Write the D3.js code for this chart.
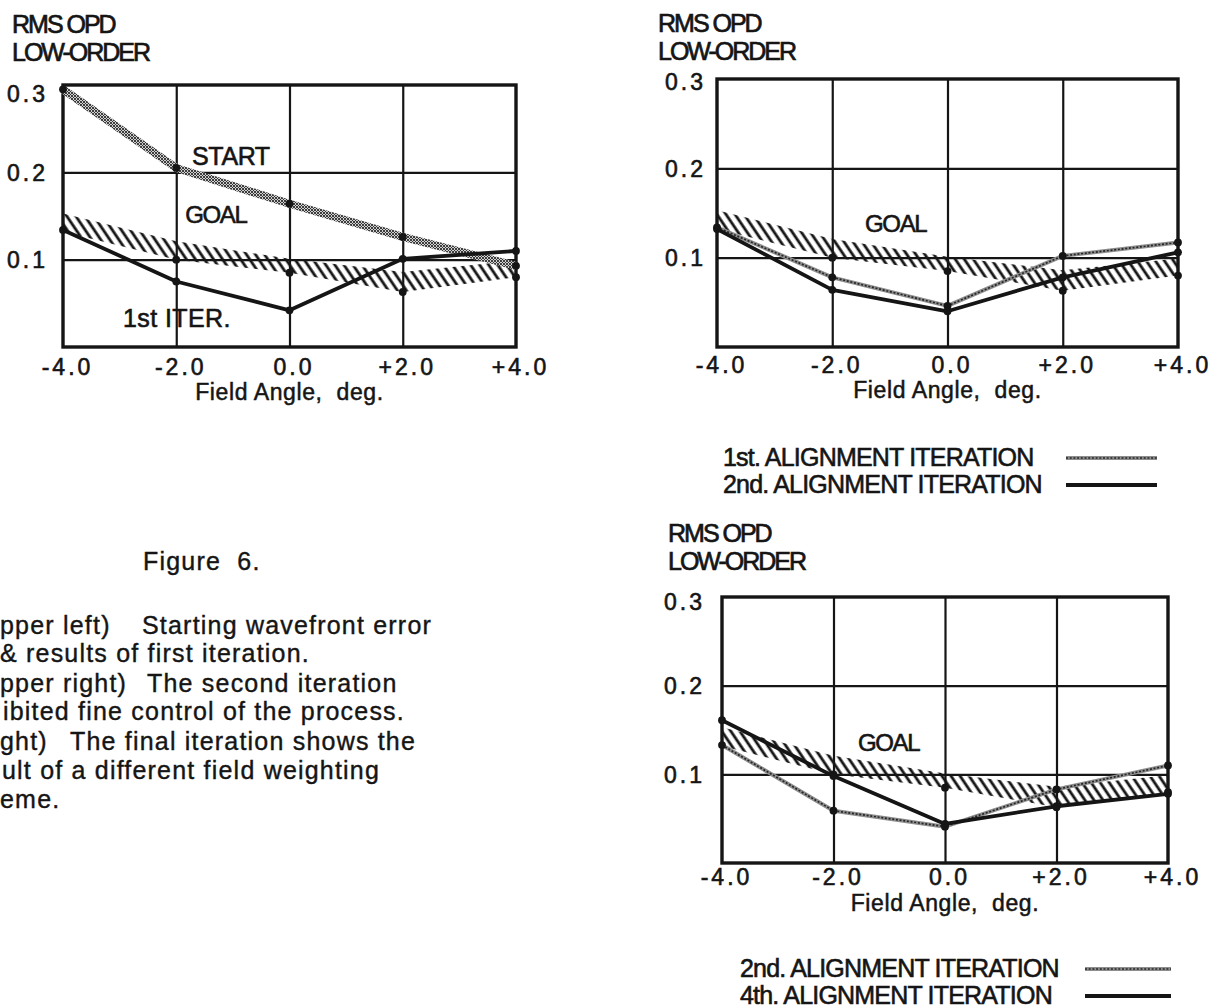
<!DOCTYPE html>
<html>
<head>
<meta charset="utf-8">
<script src="https://cdn.jsdelivr.net/npm/d3@7"></script>
<style>
  body { margin: 0; background: #fff; }
  svg { display: block; }
  text { font-family: "Liberation Sans", Arial, Helvetica, sans-serif; fill: #151515; white-space: pre; }
</style>
</head>
<body>
<svg id="fig" width="1219" height="1008"></svg>
<script>

// field angles (deg) shared by every panel
var angles = [-4, -2, 0, 2, 4];
var xTickLabels = ['-4.0', '-2.0', '0.0', '+2.0', '+4.0'];
var gridAngles = [-2, 0, 2];
var yTicks = [0.1, 0.2, 0.3];
var yTickLabels = ['0.1', '0.2', '0.3'];
var gridValues = [0.1, 0.2];

// goal band (hatched), same in all three panels
var goalUpper = [0.153, 0.121, 0.101, 0.086, 0.099];
var goalLower = [0.132, 0.100, 0.085, 0.063, 0.080];
var goalDotAngles = [-2, 0, 2, 4];

// upper left
var startError = [0.295, 0.205, 0.164, 0.126, 0.093];
var firstIter = [0.134, 0.075, 0.042, 0.101, 0.110];

// upper right
var alignFirst = [0.134, 0.078, 0.046, 0.102, 0.117];
var alignSecond = [0.132, 0.064, 0.040, 0.078, 0.106];

// lower right
var alignSecondB = [0.133, 0.059, 0.041, 0.083, 0.110];
var alignFourth = [0.161, 0.098, 0.044, 0.064, 0.078];

var legendTop = ['1st. ALIGNMENT ITERATION', '2nd. ALIGNMENT ITERATION'];
var legendBottom = ['2nd. ALIGNMENT ITERATION', '4th. ALIGNMENT ITERATION'];

var captionTitle = 'Figure  6.';
// the caption is cut by the left edge of the page: only the visible part is kept
var captionLines = [
    { y: 634, runs: [['pper left)', 0], ['Starting wavefront error', 142]] },
    { y: 662, runs: [['& results of first iteration.', 0]] },
    { y: 692, runs: [['pper right)', 0], ['The second iteration', 147]] },
    { y: 720, runs: [['ibited fine control of the process.', 3]] },
    { y: 750, runs: [['ght)', 0], ['The final iteration shows the', 70]] },
    { y: 779, runs: [['ult of a different field weighting', 2]] },
    { y: 808, runs: [['eme.', 0]] }
];

var svg = d3.select('#fig');
var ink = '#151515';

var defs = svg.append('defs');

var hatch = defs.append('pattern')
    .attr('id', 'hatch')
    .attr('patternUnits', 'userSpaceOnUse')
    .attr('width', 7.5).attr('height', 7.5)
    .attr('patternTransform', 'rotate(-34)');
hatch.append('line')
    .attr('x1', 2).attr('y1', 0).attr('x2', 2).attr('y2', 7.5)
    .attr('stroke', ink).attr('stroke-width', 2.8);

var stipple = defs.append('pattern')
    .attr('id', 'stipple')
    .attr('patternUnits', 'userSpaceOnUse')
    .attr('width', 3).attr('height', 3);
stipple.append('rect').attr('width', 3).attr('height', 3).attr('fill', '#cfcfcf');
stipple.append('path')
    .attr('d', 'M0,0L3,3M3,0L0,3')
    .attr('stroke', '#2e2e2e').attr('stroke-width', 0.9);

function label(g, txt, size, spacing, weight) {
    return g.append('text')
        .attr('font-size', size)
        .attr('letter-spacing', spacing)
        .attr('stroke', ink)
        .attr('stroke-width', weight === undefined ? 0.5 : weight)
        .text(txt);
}

function drawLine(g, path, style) {
    if (style === 'stipple') {
        g.append('path').attr('d', path).attr('fill', 'none')
            .attr('stroke', 'url(#stipple)').attr('stroke-width', 8);
    } else if (style === 'wavy') {
        g.append('path').attr('d', path).attr('fill', 'none')
            .attr('stroke', '#8e8e8e').attr('stroke-width', 4)
            .attr('stroke-linejoin', 'round');
        g.append('path').attr('d', path).attr('fill', 'none')
            .attr('stroke', '#262626').attr('stroke-width', 1.7)
            .attr('stroke-dasharray', '2 1.7');
    } else {
        g.append('path').attr('d', path).attr('fill', 'none')
            .attr('stroke', ink).attr('stroke-width', 3.8)
            .attr('stroke-linejoin', 'round');
    }
}

var panel = function (p) {

    var g = svg.append('g');

    var x = d3.scaleLinear().domain([-4, 4]).range([p.left, p.right]);
    var y = d3.scaleLinear().domain([0, 0.3]).range([p.bottom, p.top]);

    // title
    label(g, 'RMS OPD', 25, -2, 0.7).attr('x', p.titleX).attr('y', p.titleY);
    label(g, 'LOW-ORDER', 25, -2, 0.7).attr('x', p.titleX).attr('y', p.titleY + 28);

    // grid
    var gx = g.append('g')
        .attr('transform', 'translate(0,' + p.bottom + ')')
        .call(d3.axisBottom(x).tickValues(gridAngles).tickSize(-(p.bottom - p.top)).tickFormat(''));
    var gy = g.append('g')
        .attr('transform', 'translate(' + p.left + ',0)')
        .call(d3.axisLeft(y).tickValues(gridValues).tickSize(-(p.right - p.left)).tickFormat(''));
    [gx, gy].forEach(function (a) {
        a.select('.domain').remove();
        a.selectAll('line').attr('stroke', ink).attr('stroke-width', 2.2);
    });

    // goal band
    var goal = angles.map(function (a, i) {
        return { a: a, lo: goalLower[i], hi: goalUpper[i] };
    });
    g.append('path')
        .datum(goal)
        .attr('fill', 'url(#hatch)')
        .attr('d', d3.area()
            .x(function (d) { return x(d.a); })
            .y0(function (d) { return y(d.lo); })
            .y1(function (d) { return y(d.hi); }));

    // frame
    g.append('rect')
        .attr('x', p.left).attr('y', p.top)
        .attr('width', p.right - p.left).attr('height', p.bottom - p.top)
        .attr('fill', 'none').attr('stroke', ink).attr('stroke-width', 3.4);

    var line = d3.line()
        .x(function (d, i) { return x(angles[i]); })
        .y(function (d) { return y(d); });

    p.series.forEach(function (s) {
        drawLine(g, line(s.values), s.style);
    });

    // points
    var dots = [];
    goalDotAngles.forEach(function (a) {
        dots.push([a, goalLower[angles.indexOf(a)]]);
    });
    p.series.forEach(function (s) {
        s.values.forEach(function (v, i) { dots.push([angles[i], v]); });
    });
    g.selectAll('circle.pt')
        .data(dots)
        .enter().append('circle')
        .attr('class', 'pt')
        .attr('cx', function (d) { return x(d[0]); })
        .attr('cy', function (d) { return y(d[1]); })
        .attr('r', 3.9)
        .attr('fill', ink);

    // tick labels
    var xa = g.append('g')
        .attr('transform', 'translate(0,' + p.bottom + ')')
        .call(d3.axisBottom(x).tickValues(angles).tickSize(0)
            .tickFormat(function (d, i) { return xTickLabels[i]; }));
    xa.select('.domain').remove();
    xa.attr('font-size', null).attr('font-family', null).attr('fill', null);
    xa.selectAll('text')
        .attr('y', p.tickBase - p.bottom).attr('dy', 0).attr('dx', 4)
        .attr('font-size', 23).attr('letter-spacing', 3)
        .attr('stroke', ink).attr('stroke-width', 0.6);

    var ya = g.append('g')
        .attr('transform', 'translate(' + p.left + ',0)')
        .call(d3.axisLeft(y).tickValues(yTicks).tickSize(0).tickPadding(p.left - p.yLabelRight)
            .tickFormat(function (d, i) { return yTickLabels[i]; }));
    ya.select('.domain').remove();
    ya.attr('font-size', null).attr('font-family', null).attr('fill', null);
    ya.selectAll('text')
        .attr('font-size', 23).attr('letter-spacing', 3)
        .attr('stroke', ink).attr('stroke-width', 0.6)
        .attr('dy', function (d) { return d === 0.3 ? p.topLabelDy : '0.36em'; });

    label(g, 'Field Angle,  deg.', 23, 0.6)
        .attr('x', (p.left + p.right) / 2).attr('y', p.axisTitleY)
        .attr('text-anchor', 'middle');

    // labels inside the plot
    p.notes.forEach(function (n) {
        label(g, n.text, n.size, n.spacing, 0.6).attr('x', x(n.a)).attr('y', y(n.v));
    });

    // legend
    if (p.legend) {
        p.legend.forEach(function (txt, i) {
            var base = p.legendY + i * 27;
            label(g, txt, 25, -0.8, 0.6).attr('x', p.legendX).attr('y', base);
            var sample = d3.line()([[p.sampleX0, base - 8], [p.sampleX1, base - 8]]);
            drawLine(g, sample, p.series[i].style);
        });
    }
};

panel({
    left: 63, right: 516, top: 85, bottom: 347,
    titleX: 12, titleY: 33, topLabelDy: '0.72em',
    tickBase: 375, yLabelRight: 48, axisTitleY: 400,
    series: [
        { values: startError, style: 'stipple' },
        { values: firstIter, style: 'solid' }
    ],
    notes: [
        { text: 'START', a: -1.72, v: 0.2085, size: 25, spacing: -0.4 },
        { text: 'GOAL', a: -1.84, v: 0.142, size: 24, spacing: -1.4 },
        { text: '1st ITER.', a: -2.94, v: 0.023, size: 25, spacing: 0.4 }
    ]
});

panel({
    left: 717, right: 1178, top: 79, bottom: 347,
    titleX: 658, titleY: 32, topLabelDy: '0.45em',
    tickBase: 373, yLabelRight: 706, axisTitleY: 398,
    series: [
        { values: alignFirst, style: 'wavy' },
        { values: alignSecond, style: 'solid' }
    ],
    notes: [
        { text: 'GOAL', a: -1.43, v: 0.129, size: 24, spacing: -1.4 }
    ],
    legend: legendTop, legendX: 723, legendY: 466, sampleX0: 1066, sampleX1: 1157
});

panel({
    left: 722, right: 1168, top: 597, bottom: 863,
    titleX: 668, titleY: 542, topLabelDy: '0.55em',
    tickBase: 885, yLabelRight: 705, axisTitleY: 911,
    series: [
        { values: alignSecondB, style: 'wavy' },
        { values: alignFourth, style: 'solid' }
    ],
    notes: [
        { text: 'GOAL', a: -1.56, v: 0.126, size: 24, spacing: -1.4 }
    ],
    legend: legendBottom, legendX: 740, legendY: 977, sampleX0: 1085, sampleX1: 1171
});

// caption on the left
var caption = svg.append('g');
label(caption, captionTitle, 25, 1.2, 0.4).attr('x', 143).attr('y', 570);

captionLines.forEach(function (line) {
    line.runs.forEach(function (run) {
        label(caption, run[0], 25, 1.2, 0.4).attr('x', run[1]).attr('y', line.y);
    });
});

</script>
</body>
</html>
